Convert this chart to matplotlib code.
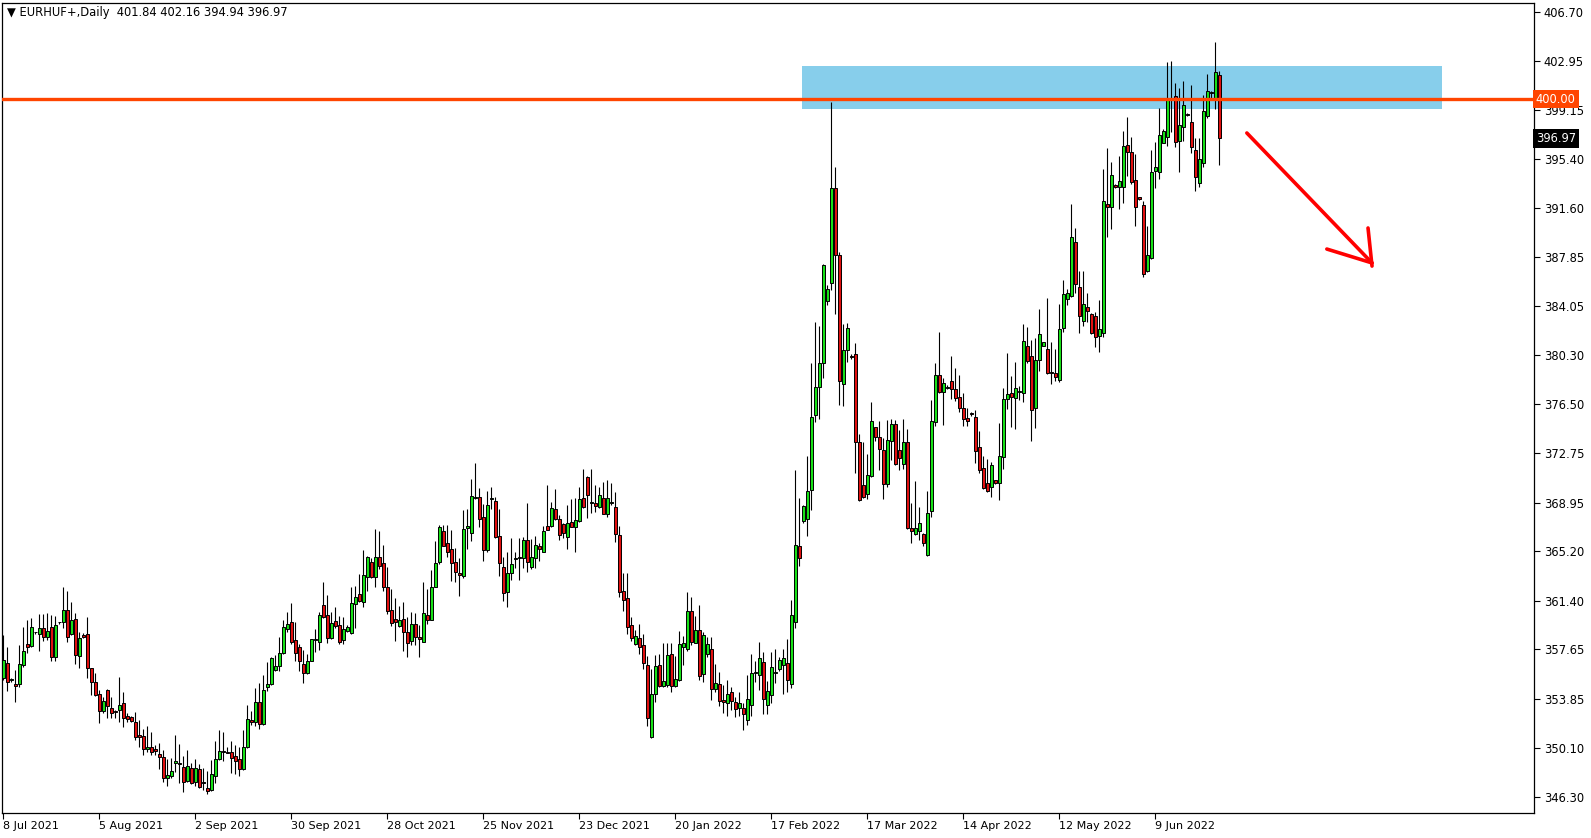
import numpy as np
import matplotlib.pyplot as plt
from matplotlib.patches import Rectangle

# EURHUF daily candles, 8 Jul 2021 .. end of Jun 2022 (broker with Sunday bars)
opens = [
    355.42, 356.58, 355.30, 354.99, 354.96, 356.45, 358.07, 357.91, 358.96, 358.81,
    359.27, 358.58, 359.35, 357.09, 359.73, 359.73, 360.68, 358.83, 359.99, 357.17,
    358.76, 358.83, 356.19, 355.12, 354.22, 352.94, 354.53, 353.17, 352.91, 352.99,
    353.50, 352.55, 352.43, 352.05, 351.07, 350.99, 350.02, 350.12, 349.97, 349.61,
    349.35, 347.74, 347.94, 348.94, 348.94, 348.61, 347.56, 348.51, 347.48, 348.46,
    347.43, 346.99, 346.84, 347.94, 349.23, 349.87, 349.76, 349.76, 349.46, 349.23,
    348.43, 350.12, 352.23, 352.10, 353.58, 351.92, 354.74, 354.97, 356.05, 356.36,
    357.36, 359.20, 359.74, 358.36, 357.82, 356.51, 355.87, 356.79, 358.36, 358.25,
    361.07, 360.30, 358.51, 359.87, 359.54, 358.36, 359.10, 358.89, 361.18, 361.92,
    361.33, 363.25, 364.41, 363.25, 364.74, 364.28, 362.46, 360.66, 359.97, 359.48,
    359.97, 358.97, 358.33, 359.61, 358.58, 358.25, 360.28, 359.94, 362.46, 364.41,
    366.77, 365.82, 365.36, 364.36, 363.51, 363.33, 367.02, 366.59, 369.31, 369.36,
    367.84, 365.31, 369.20, 369.07, 366.38, 363.97, 362.09, 363.50, 364.58, 364.66,
    364.66, 366.04, 364.02, 364.66, 365.61, 365.17, 367.15, 367.17, 368.45, 367.66,
    367.28, 366.27, 367.43, 367.10, 367.56, 369.30, 370.89, 368.89, 368.92, 368.63,
    369.33, 368.10, 368.89, 368.58, 366.43, 362.15, 361.58, 359.51, 358.04, 358.51,
    357.97, 356.43, 350.94, 354.20, 356.45, 354.86, 354.92, 357.27, 354.86, 355.30,
    357.86, 357.66, 360.61, 358.17, 359.15, 355.74, 357.27, 357.69, 354.61, 354.97,
    353.76, 353.56, 354.38, 353.61, 353.13, 353.13, 352.19, 353.35, 355.81, 355.65,
    356.66, 353.35, 354.14, 355.81, 356.12, 356.44, 356.59, 354.99, 359.80, 365.62,
    367.51, 367.67, 369.93, 375.69, 377.83, 379.72, 384.50, 385.85, 393.15, 388.02,
    378.11, 380.72, 380.25, 380.38, 373.59, 370.30, 369.61, 371.02, 374.74, 373.97,
    373.00, 370.35, 373.71, 374.97, 373.00, 371.89, 373.59, 366.97, 366.51, 366.79,
    366.53, 364.92, 368.33, 375.13, 378.77, 377.43, 377.79, 378.31, 377.66, 377.05,
    376.20, 375.48, 375.87, 375.51, 373.25, 371.58, 370.43, 370.17, 370.68, 370.48,
    372.48, 376.89, 377.35, 376.97, 377.46, 377.35, 381.00, 380.23, 376.25, 379.92,
    381.02, 380.76, 378.99, 378.89, 378.38, 382.36, 384.59, 384.87, 388.97, 385.51,
    382.92, 384.00, 383.43, 383.30, 381.79, 382.02, 391.92, 391.66, 393.38, 393.25,
    393.20, 396.46, 395.90, 393.77, 392.43, 391.84, 386.79, 387.74, 394.49, 394.36,
    396.64, 397.10, 400.00, 400.23, 396.79, 397.82, 398.85, 398.20, 396.08, 393.56,
    395.05, 398.72, 400.44, 400.10, 401.84,
]
highs = [
    358.76, 357.81, 355.42, 356.06, 357.99, 359.40, 359.91, 360.09, 359.01, 360.37,
    360.37, 360.43, 360.32, 360.22, 359.78, 362.48, 362.14, 361.30, 360.43, 359.01,
    358.89, 360.17, 356.25, 355.81, 354.53, 354.01, 354.58, 354.01, 352.99, 355.50,
    354.40, 352.73, 352.53, 352.82, 352.23, 351.51, 351.76, 351.30, 350.30, 350.43,
    349.92, 349.23, 349.28, 351.07, 350.38, 349.46, 349.92, 348.94, 349.23, 348.84,
    348.51, 348.33, 349.15, 350.61, 351.46, 351.28, 350.17, 350.61, 350.30, 350.17,
    351.46, 353.38, 352.92, 354.71, 355.05, 355.69, 356.69, 357.10, 357.23, 358.61,
    359.92, 360.51, 361.23, 359.74, 358.05, 357.61, 357.28, 358.46, 359.23, 360.51,
    362.87, 361.84, 360.56, 360.92, 360.23, 360.18, 359.54, 362.49, 362.56, 363.46,
    365.31, 364.82, 364.67, 366.92, 366.77, 365.69, 364.02, 362.28, 361.59, 361.00,
    361.28, 360.18, 360.51, 360.43, 359.53, 362.82, 362.28, 363.77, 366.00, 367.23,
    367.20, 367.23, 366.84, 365.43, 364.72, 368.38, 368.43, 370.77, 372.03, 370.10,
    368.84, 369.85, 370.18, 369.40, 368.45, 364.74, 365.17, 366.20, 365.17, 366.20,
    366.33, 368.89, 366.12, 366.38, 365.86, 367.15, 370.30, 369.02, 369.97, 367.99,
    367.35, 368.76, 369.22, 369.28, 370.12, 371.51, 371.02, 371.51, 370.30, 370.12,
    370.56, 370.69, 370.43, 369.74, 367.15, 363.51, 363.51, 360.12, 359.15, 359.58,
    358.81, 357.17, 356.15, 357.22, 357.27, 358.12, 358.12, 358.17, 357.15, 359.07,
    358.71, 362.10, 361.71, 360.22, 361.07, 358.97, 358.63, 358.63, 356.51, 355.89,
    354.91, 355.30, 354.74, 353.97, 354.39, 353.51, 355.71, 357.29, 356.75, 358.23,
    357.44, 355.24, 357.44, 357.69, 357.07, 357.69, 358.45, 361.47, 371.44, 369.33,
    368.77, 372.54, 379.68, 382.86, 382.52, 387.33, 385.66, 399.76, 394.79, 388.27,
    382.70, 382.77, 380.41, 381.20, 374.20, 373.64, 372.66, 376.66, 374.79, 375.23,
    373.95, 375.31, 375.38, 375.31, 374.54, 375.38, 374.61, 368.89, 370.61, 368.64,
    366.58, 369.84, 376.84, 379.67, 382.05, 378.51, 378.00, 380.23, 379.33, 378.77,
    377.36, 376.20, 375.92, 376.07, 374.48, 372.56, 372.30, 372.10, 370.70, 375.05,
    377.74, 380.48, 378.69, 379.79, 377.92, 382.69, 382.48, 381.46, 381.59, 383.84,
    381.30, 384.72, 381.33, 380.76, 384.23, 386.07, 385.38, 391.92, 390.05, 386.77,
    386.77, 385.05, 383.51, 383.64, 384.53, 394.61, 396.26, 395.18, 393.45, 395.61,
    397.56, 398.64, 397.10, 395.77, 392.50, 392.15, 390.25, 396.08, 396.67, 399.33,
    397.67, 402.87, 402.95, 401.26, 400.87, 401.41, 398.90, 401.08, 397.02, 397.02,
    400.31, 401.92, 400.64, 404.41, 402.16,
]
lows = [
    355.30, 354.47, 355.17, 353.63, 354.78, 356.32, 357.35, 357.86, 358.83, 357.55,
    358.32, 358.37, 356.78, 356.78, 359.60, 359.27, 358.25, 358.76, 356.53, 356.19,
    358.50, 355.42, 354.14, 354.06, 352.01, 352.73, 352.35, 352.40, 352.35, 352.09,
    351.65, 352.09, 352.10, 350.69, 350.17, 349.51, 349.79, 349.53, 349.53, 348.43,
    347.48, 347.17, 347.74, 348.25, 347.40, 346.71, 347.43, 347.30, 347.15, 347.02,
    346.84, 346.51, 346.79, 347.35, 349.15, 349.10, 349.66, 348.17, 348.07, 347.94,
    348.38, 350.05, 351.84, 351.79, 351.51, 351.84, 354.48, 354.92, 356.00, 356.02,
    357.33, 359.02, 358.05, 356.79, 356.02, 355.05, 355.74, 356.75, 357.48, 357.64,
    360.05, 358.12, 358.46, 359.33, 358.05, 358.05, 359.02, 358.84, 359.28, 361.28,
    360.95, 362.15, 363.13, 362.43, 363.84, 362.18, 360.38, 359.48, 358.33, 359.41,
    357.56, 357.10, 357.99, 357.99, 357.05, 358.20, 359.58, 359.92, 362.43, 364.20,
    365.60, 364.79, 362.95, 362.87, 361.79, 363.12, 365.38, 366.02, 369.20, 367.10,
    364.48, 365.18, 368.43, 366.20, 363.32, 361.40, 360.94, 362.99, 363.94, 362.99,
    363.89, 363.63, 363.84, 363.89, 364.45, 365.12, 366.81, 367.04, 367.61, 366.07,
    366.20, 365.38, 367.05, 365.17, 367.48, 368.51, 367.74, 368.12, 368.25, 368.56,
    368.04, 367.86, 368.76, 365.89, 361.71, 360.63, 358.84, 358.33, 357.99, 357.27,
    356.12, 351.79, 350.81, 353.63, 354.79, 354.79, 354.80, 354.40, 354.79, 355.25,
    356.45, 357.56, 357.99, 358.12, 355.30, 355.17, 357.09, 353.76, 354.40, 353.32,
    352.79, 352.56, 352.99, 352.48, 352.57, 351.47, 351.84, 352.50, 355.18, 354.52,
    352.66, 352.72, 353.51, 355.08, 355.96, 354.20, 354.39, 354.71, 359.27, 364.05,
    367.35, 366.35, 368.36, 375.15, 375.37, 378.52, 384.18, 385.28, 383.46, 376.48,
    376.38, 379.78, 380.00, 371.25, 369.07, 369.28, 369.23, 370.94, 373.71, 371.46,
    369.23, 370.18, 372.23, 371.84, 371.46, 371.51, 366.89, 365.87, 366.46, 366.07,
    365.63, 364.84, 367.82, 374.87, 377.40, 374.92, 377.66, 376.92, 376.77, 375.89,
    374.87, 374.87, 375.64, 371.97, 371.25, 369.97, 369.74, 369.40, 370.35, 369.15,
    371.50, 376.15, 374.79, 374.58, 376.84, 376.71, 379.66, 373.71, 374.66, 379.10,
    381.00, 378.84, 378.05, 378.33, 378.25, 382.10, 384.15, 384.79, 385.05, 381.97,
    382.53, 382.87, 381.92, 380.89, 380.56, 381.66, 389.36, 390.00, 393.15, 391.51,
    391.97, 394.10, 393.46, 390.25, 392.20, 386.33, 386.71, 387.69, 393.18, 393.84,
    396.59, 396.41, 397.44, 396.28, 394.41, 396.79, 398.70, 395.82, 392.95, 393.25,
    394.79, 398.51, 400.00, 399.23, 394.94,
]
closes = [
    356.83, 355.17, 355.37, 354.86, 356.50, 357.53, 357.86, 359.35, 358.98, 359.27,
    358.63, 359.07, 357.09, 359.53, 359.75, 360.68, 358.63, 359.91, 357.22, 358.50,
    358.63, 356.19, 355.12, 354.14, 352.94, 353.68, 353.29, 352.78, 352.81, 353.37,
    352.40, 352.27, 352.17, 350.89, 350.94, 349.97, 350.12, 349.79, 349.87, 349.35,
    347.74, 347.99, 348.30, 349.05, 348.87, 347.48, 348.69, 347.35, 348.51, 347.10,
    347.35, 346.79, 348.07, 349.20, 349.84, 349.79, 349.69, 349.33, 349.10, 348.43,
    350.15, 352.30, 352.10, 353.58, 351.89, 354.53, 354.99, 356.97, 356.38, 357.36,
    359.36, 359.59, 358.25, 357.36, 356.79, 355.82, 356.79, 358.43, 358.46, 360.30,
    360.13, 358.51, 359.66, 359.48, 358.25, 359.20, 359.36, 361.20, 361.69, 361.38,
    363.38, 364.74, 363.20, 364.74, 364.10, 362.48, 360.64, 359.71, 359.79, 359.89,
    358.97, 358.12, 359.61, 358.58, 358.48, 360.43, 359.94, 362.46, 364.28, 367.07,
    365.64, 365.18, 364.28, 363.59, 363.41, 366.92, 367.13, 369.46, 369.38, 367.72,
    365.31, 368.74, 369.28, 366.33, 364.27, 361.97, 363.50, 364.22, 364.68, 364.76,
    366.04, 364.40, 364.74, 365.68, 365.35, 366.76, 366.86, 368.53, 367.66, 366.43,
    366.63, 367.35, 367.10, 367.58, 369.20, 368.63, 369.51, 368.99, 368.71, 369.51,
    368.10, 369.28, 368.99, 366.51, 362.10, 361.46, 359.40, 358.51, 358.69, 357.86,
    356.58, 352.35, 354.22, 356.38, 354.86, 355.22, 357.22, 354.86, 355.35, 358.07,
    358.15, 360.61, 358.20, 359.15, 355.63, 358.74, 358.04, 354.61, 355.04, 353.71,
    353.63, 354.22, 353.71, 353.09, 353.51, 352.66, 353.82, 355.81, 355.93, 357.03,
    353.82, 354.45, 356.28, 355.93, 356.88, 357.03, 355.33, 360.27, 365.72, 364.68,
    368.67, 369.87, 375.53, 377.83, 379.72, 387.27, 385.38, 393.15, 388.02, 378.27,
    380.72, 382.36, 380.16, 373.59, 369.15, 369.41, 371.07, 375.23, 373.97, 373.05,
    370.35, 373.77, 374.97, 371.89, 372.36, 373.59, 367.02, 366.79, 366.97, 367.40,
    365.81, 368.12, 375.23, 378.77, 377.43, 378.13, 377.87, 377.66, 376.97, 376.20,
    375.38, 375.25, 375.77, 372.94, 371.45, 370.04, 369.84, 371.84, 370.48, 372.56,
    376.89, 377.28, 377.05, 377.79, 377.53, 381.38, 379.87, 376.07, 379.92, 381.89,
    381.28, 378.94, 378.92, 378.58, 382.28, 384.97, 385.05, 389.36, 385.74, 383.30,
    384.20, 383.69, 381.97, 381.71, 382.28, 392.15, 391.66, 394.15, 393.20, 393.69,
    396.38, 395.95, 393.64, 391.72, 392.28, 386.51, 388.00, 394.36, 394.79, 397.23,
    397.54, 400.00, 400.10, 396.72, 398.00, 399.54, 398.74, 396.28, 393.97, 395.38,
    399.08, 400.64, 400.56, 402.05, 396.97,
]

date_labels = ['8 Jul 2021', '5 Aug 2021', '2 Sep 2021', '30 Sep 2021', '28 Oct 2021',
               '25 Nov 2021', '23 Dec 2021', '20 Jan 2022', '17 Feb 2022', '17 Mar 2022',
               '14 Apr 2022', '12 May 2022', '9 Jun 2022']
date_pos = [0, 24, 48, 72, 96, 120, 144, 168, 192, 216, 240, 264, 288]
price_ticks = [406.70, 402.95, 399.15, 395.40, 391.60, 387.85, 384.05, 380.30, 376.50,
               372.75, 368.95, 365.20, 361.40, 357.65, 353.85, 350.10, 346.30]

# supply zone + round number level
zone_start, zone_end = 199.8, 359.7
zone_low, zone_high = 399.26, 402.54
level = 400.00
last_price = 396.97

# hand-drawn arrow (bar index, price)
arrow_x = [310.9, 342.2]
arrow_y = [397.39, 387.39]
head1_x, head1_y = [330.9, 342.2], [388.46, 387.39]
head2_x, head2_y = [341.2, 342.2], [390.08, 387.15]

o = np.array(opens)
h = np.array(highs)
l = np.array(lows)
c = np.array(closes)
x = np.arange(len(c))

W, H = 1591, 838
fig = plt.figure(figsize=(W / 100, H / 100), dpi=100)
ax = fig.add_axes([2 / W, 1 - 813 / H, 1532 / W, 810 / H])

ax.add_patch(Rectangle((zone_start, zone_low), zone_end - zone_start, zone_high - zone_low,
                       facecolor='#87CEEB', edgecolor='none', zorder=1))

ax.vlines(x, l, h, color='black', lw=0.8, zorder=2)
up = c >= o
bottom = np.minimum(o, c)
height = np.maximum(np.abs(c - o), 0.04)
ax.bar(x[up], height[up], bottom=bottom[up], width=0.64, color='#18E018',
       edgecolor='black', linewidth=0.7, zorder=3)
ax.bar(x[~up], height[~up], bottom=bottom[~up], width=0.64, color='#E01010',
       edgecolor='black', linewidth=0.7, zorder=3)

ax.axhline(level, color='#FF4500', lw=2.4, zorder=4)

red = '#FF0000'
ax.plot(arrow_x, arrow_y, color=red, lw=2.6, solid_capstyle='round', zorder=5)
ax.plot(head1_x, head1_y, color=red, lw=2.6, solid_capstyle='round', zorder=5)
ax.plot(head2_x, head2_y, color=red, lw=2.6, solid_capstyle='round', zorder=5)

ax.set_xlim(-0.35, 382.7)
ax.set_ylim(345.07, 407.39)

ax.yaxis.tick_right()
ax.set_yticks(price_ticks)
ax.set_yticklabels(['%.2f' % p for p in price_ticks])
ax.tick_params(axis='y', length=4, width=0.8, pad=3, labelsize=8.3)
ax.set_xticks(date_pos)
ax.set_xticklabels(date_labels, ha='left')
ax.tick_params(axis='x', length=4, width=0.8, pad=2, labelsize=8)
for s in ax.spines.values():
    s.set_color('black')
    s.set_linewidth(0.9)

ax.text(1.0012, level, '%.2f' % level, transform=ax.get_yaxis_transform(),
        color='white', fontsize=8.3, va='center', ha='left', zorder=6,
        bbox=dict(boxstyle='square,pad=0.25', facecolor='#FF4500', edgecolor='none'))
ax.text(1.0012, last_price, '%.2f' % last_price, transform=ax.get_yaxis_transform(),
        color='white', fontsize=8.3, va='center', ha='left', zorder=6,
        bbox=dict(boxstyle='square,pad=0.25', facecolor='black', edgecolor='none'))

ax.text(0.003, 0.9885, '\u25bc EURHUF+,Daily  %.2f %.2f %.2f %.2f' % (o[-1], h[-1], l[-1], c[-1]),
        transform=ax.transAxes, fontsize=8.3, va='center', ha='left', zorder=6)

fig.savefig('out.png', dpi=100)
